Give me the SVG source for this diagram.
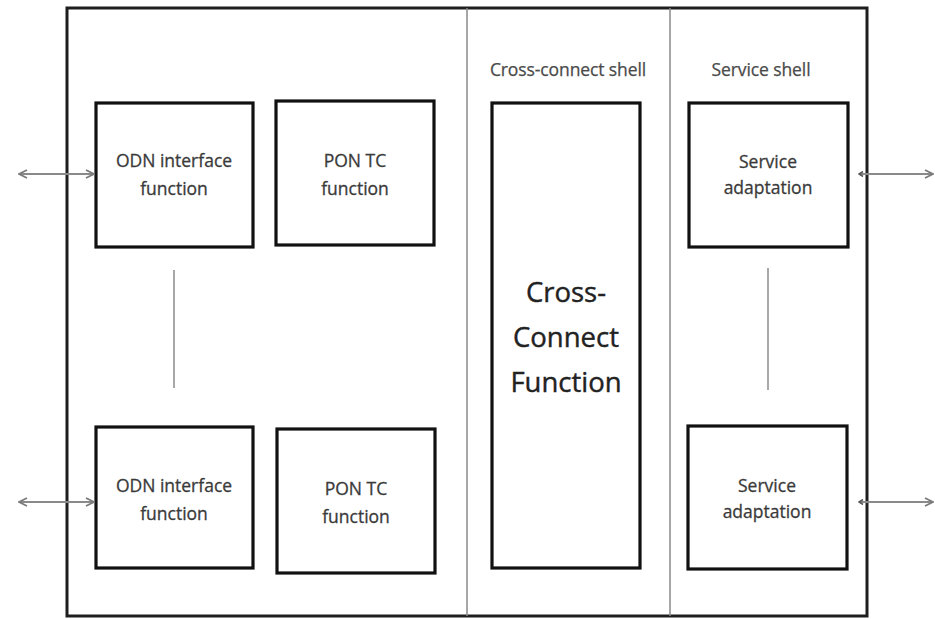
<svg xmlns="http://www.w3.org/2000/svg" width="935" height="619" viewBox="0 0 935 619">
  <style>
    .frame { fill: #fff; stroke: #1e1e1e; stroke-width: 3; }
    .divider { stroke: #8a8a8a; stroke-width: 1.5; fill: none; }
    .box { fill: #fff; stroke: #111; stroke-width: 3.2; }
    .label { font-family: "Open Sans", "Liberation Sans", sans-serif; font-size: 17.5px; fill: #3a3a3a; stroke: #3a3a3a; stroke-width: 0.3; text-anchor: middle; }
    .shell { font-family: "Open Sans", "Liberation Sans", sans-serif; font-size: 17.5px; fill: #4a4a4a; stroke: #4a4a4a; stroke-width: 0.25; text-anchor: middle; letter-spacing: -0.1px; }
    .big { font-family: "Open Sans", "Liberation Sans", sans-serif; font-size: 27.5px; fill: #222; stroke: #222; stroke-width: 0.4; text-anchor: middle; }
    .link { stroke: #8a8a8a; stroke-width: 2; fill: none; }
    .ellipsis { stroke: #a8a8a8; stroke-width: 2; }
  </style>
  <defs>
    <marker id="chevron" viewBox="0 0 10 10" refX="9" refY="5" markerWidth="10" markerHeight="10" markerUnits="userSpaceOnUse" orient="auto-start-reverse">
      <path d="M1,1 L9,5 L1,9" fill="none" stroke="#7a7a7a" stroke-width="1.8"/>
    </marker>
    <marker id="nub" viewBox="0 0 6 6" refX="1" refY="3" markerWidth="6" markerHeight="6" markerUnits="userSpaceOnUse" orient="auto">
      <path d="M5,0.5 L1,3 L5,5.5" fill="none" stroke="#555" stroke-width="1.6"/>
    </marker>
  </defs>

  <rect width="935" height="619" fill="#fff"/>

  <!-- outer equipment frame and shell dividers -->
  <g id="frame">
    <rect class="frame" x="67" y="8" width="800" height="608"/>
    <line class="divider" x1="467" y1="8" x2="467" y2="616"/>
    <line class="divider" x1="670" y1="8" x2="670" y2="616"/>
    <text class="shell" x="568" y="76">Cross-connect shell</text>
    <text class="shell" x="761" y="76">Service shell</text>
  </g>

  <g id="odn-1">
    <rect class="box" x="96" y="103" width="157" height="144"/>
    <text class="label" x="174" y="167">ODN interface</text>
    <text class="label" x="174" y="195">function</text>
  </g>
  <g id="pontc-1">
    <rect class="box" x="276" y="101" width="158" height="144"/>
    <text class="label" x="355" y="167">PON TC</text>
    <text class="label" x="355" y="195">function</text>
  </g>
  <g id="odn-2">
    <rect class="box" x="96" y="427" width="157" height="141"/>
    <text class="label" x="174" y="492">ODN interface</text>
    <text class="label" x="174" y="520">function</text>
  </g>
  <g id="pontc-2">
    <rect class="box" x="277" y="429" width="158" height="144"/>
    <text class="label" x="356" y="495">PON TC</text>
    <text class="label" x="356" y="523">function</text>
  </g>
  <g id="cross-connect">
    <rect class="box" x="492" y="103" width="148" height="465"/>
    <text class="big" x="566" y="302">Cross-</text>
    <text class="big" x="566" y="347">Connect</text>
    <text class="big" x="566" y="392">Function</text>
  </g>
  <g id="service-1">
    <rect class="box" x="689" y="103" width="159" height="144"/>
    <text class="label" x="768" y="168">Service</text>
    <text class="label" x="768" y="194">adaptation</text>
  </g>
  <g id="service-2">
    <rect class="box" x="688" y="426" width="159" height="143"/>
    <text class="label" x="767" y="492">Service</text>
    <text class="label" x="767" y="518">adaptation</text>
  </g>

  <!-- connectors -->
  <g id="connectors">
    <line class="link" x1="19" y1="174" x2="94" y2="174" marker-start="url(#chevron)" marker-end="url(#chevron)"/>
    <line class="link" x1="19" y1="502" x2="94" y2="502" marker-start="url(#chevron)" marker-end="url(#chevron)"/>
    <line class="link" x1="859" y1="174" x2="933" y2="174" marker-start="url(#nub)" marker-end="url(#chevron)"/>
    <line class="link" x1="859" y1="502" x2="933" y2="502" marker-start="url(#nub)" marker-end="url(#chevron)"/>
    <line class="ellipsis" x1="174" y1="270" x2="174" y2="388"/>
    <line class="ellipsis" x1="768" y1="268" x2="768" y2="390"/>
  </g>
</svg>
